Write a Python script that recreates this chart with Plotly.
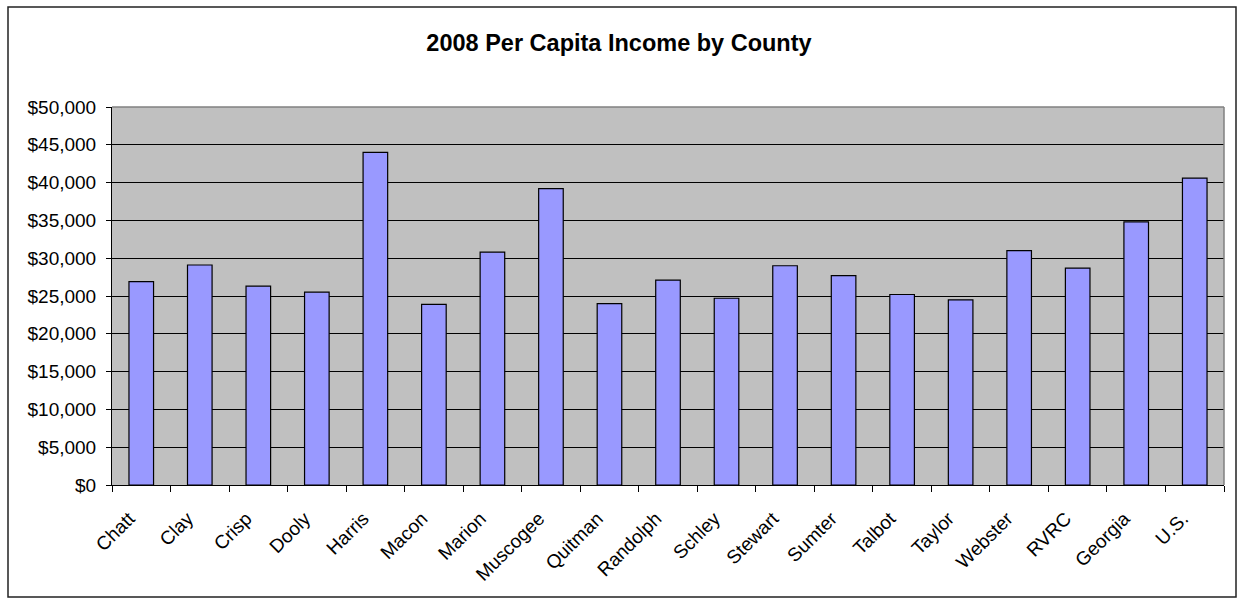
import plotly.graph_objects as go

# 2008 per capita personal income, by county and region
counties = ["Chatt", "Clay", "Crisp", "Dooly", "Harris", "Macon", "Marion",
            "Muscogee", "Quitman", "Randolph", "Schley", "Stewart", "Sumter",
            "Talbot", "Taylor", "Webster", "RVRC", "Georgia", "U.S."]
income = [26900, 29100, 26300, 25500, 44000, 23900, 30800,
          39200, 24000, 27100, 24700, 29000, 27700,
          25200, 24500, 31000, 28700, 34800, 40600]

W, H = 1238, 601
L, R, T, B = 112, 14, 107, 116
FONT = "Arial, Liberation Sans, sans-serif"

fig = go.Figure(
    go.Bar(
        x=counties,
        y=income,
        marker=dict(color="#9999FF", line=dict(color="#000000", width=1.2)),
        hoverinfo="x+y",
    )
)

pw, ph = W - L - R, H - T - B


def px_x(p):
    return (p - L) / pw


def px_y(p):
    return (H - B - p) / ph


fig.update_layout(
    width=W,
    height=H,
    margin=dict(l=L, r=R, t=T, b=B),
    paper_bgcolor="#FFFFFF",
    plot_bgcolor="#C0C0C0",
    bargap=0.58,
    showlegend=False,
    font=dict(family=FONT, color="#000000", size=19),
    title=dict(
        text="<b>2008 Per Capita Income by County</b>",
        font=dict(family=FONT, size=23.5, color="#000000"),
        x=0.5, xanchor="center",
        y=1 - 43 / H, yanchor="middle", yref="container",
    ),
    xaxis=dict(
        type="category",
        tickangle=-45,
        ticks="outside", ticklen=6, tickcolor="#000000", tickwidth=1,
        tickson="boundaries",
        ticklabelstandoff=14,
        ticklabelshift=-12,
        showline=True, linecolor="#000000", linewidth=1,
        showgrid=False,
        tickfont=dict(family=FONT, size=19),
    ),
    yaxis=dict(
        range=[0, 50000],
        dtick=5000,
        tickprefix="$",
        tickformat=",",
        ticks="outside", ticklen=5, tickcolor="#000000", tickwidth=1,
        ticklabelstandoff=6,
        showline=True, linecolor="#000000", linewidth=1,
        showgrid=True, gridcolor="#000000", gridwidth=1,
        zeroline=False,
        tickfont=dict(family=FONT, size=19),
    ),
    shapes=[
        # plot-area border on the top and right edges
        dict(type="line", xref="paper", yref="paper", x0=0, x1=1, y0=1, y1=1,
             line=dict(color="#808080", width=1.5), layer="above"),
        dict(type="line", xref="paper", yref="paper", x0=1, x1=1, y0=0, y1=1,
             line=dict(color="#808080", width=1.5), layer="above"),
        # outer chart frame
        dict(type="rect", xref="paper", yref="paper",
             x0=px_x(8), x1=px_x(1236), y0=px_y(597), y1=px_y(7),
             line=dict(color="#222222", width=1.5), fillcolor="rgba(0,0,0,0)",
             layer="above"),
    ],
)

fig.write_html("out.html")
